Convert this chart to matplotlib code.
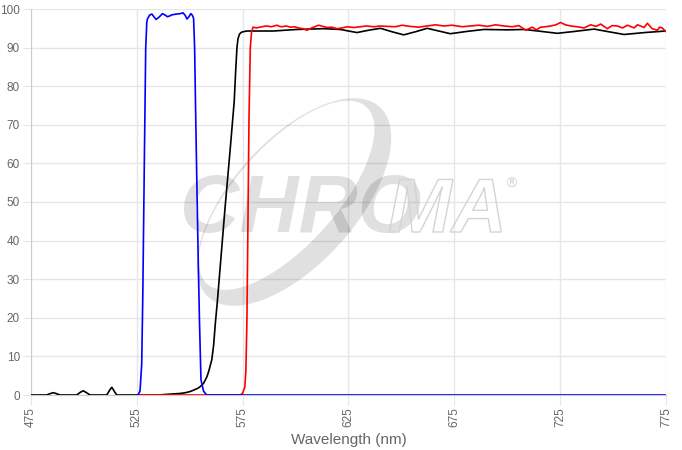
import numpy as np
import matplotlib
matplotlib.use('Agg')
import matplotlib.pyplot as plt
from matplotlib.path import Path
from matplotlib.patches import PathPatch
import matplotlib.patheffects as pe

# blue: bandpass excitation
blue_wl = [525, 525.5, 526.5, 527.3, 527.8, 528.6, 529.2, 529.7, 530.0, 531.0, 532.1, 533.2,
           534.1, 535.5, 537.1, 538.4, 539.5, 540.5, 541.6, 543.9, 545.5, 546.8, 547.8, 548.7,
           549.6, 550.5, 551.2, 551.8, 552.3, 552.7, 553.1, 554.0, 554.6, 555.3, 556.5, 558, 775]
blue_t = [0, 0, 1, 8, 25, 63, 90, 96.5, 97.4, 98.4, 98.7, 97.9,
          97.3, 97.9, 98.8, 98.4, 98.0, 98.2, 98.5, 98.7, 98.8, 99.0, 98.4, 97.4,
          98.0, 98.8, 98.4, 97.6, 90, 76, 63, 35, 19, 4, 1, 0, 0]

# black: dichroic
black_wl = [475, 482.4, 484, 485.6, 487, 488.7, 496.6, 498.3, 499.7, 501.2, 502.9, 510.8,
            512.2, 513.2, 514.3, 515.5, 535, 540, 545.5, 548, 550.2, 552, 554, 555, 556.5,
            558.1, 559, 560.4, 561.3, 562, 563.1, 566.6, 569, 571, 571.7, 572.3, 572.8,
            573.5, 574.5, 576, 577, 583, 589.6, 595, 600.7, 607, 613.3, 621.2, 625, 629,
            634.5, 640.1, 645.6, 651.1, 656.6, 662.2, 667.6, 673.1, 681, 689, 700.1, 708,
            716, 723.7, 732, 741, 748, 755.2, 765, 775]
black_t = [0, 0, 0.35, 0.6, 0.35, 0, 0, 0.7, 1.1, 0.6, 0, 0,
           1.3, 2.0, 1.0, 0, 0, 0.2, 0.4, 0.6, 0.9, 1.3, 1.8, 2.2, 3.0,
           4.7, 6.2, 9.1, 13, 18, 24.6, 48, 63, 76, 84, 90, 92.3,
           93.5, 94.0, 94.2, 94.3, 94.3, 94.3, 94.5, 94.7, 94.8, 94.9, 94.7, 94.3, 93.9,
           94.5, 95.0, 94.1, 93.3, 94.1, 95.0, 94.3, 93.6, 94.2, 94.7, 94.6, 94.7,
           94.2, 93.7, 94.2, 94.8, 94.1, 93.4, 93.9, 94.3]

# red: emission
red_wl = [525, 574, 575, 576, 576.5, 577, 577.5, 578, 578.6, 579.2, 579.9, 581.5, 583.3,
          585, 586.5, 588.5, 591.2, 592.4, 593.6, 595.5, 597.5, 599.5, 601.4, 603.5, 605.4,
          608, 610.9, 612.8, 614.9, 617, 619.6, 622, 624.3, 627.5, 630.6, 633.5, 636.9,
          640, 643.2, 647, 650.4, 654, 658.2, 662, 666.1, 670, 674, 678.7, 682.5, 686.6,
          690.5, 694.5, 698.5, 702.4, 705.5, 708.7, 711.8, 713.8, 715.8, 718, 720.5, 723,
          725.2, 727.5, 730, 733, 736.3, 739.4, 742, 744.1, 747.3, 749.5, 752, 754.5,
          756.8, 759.9, 761.5, 763, 764.6, 766.2, 768.5, 770.9, 772, 773.2, 774.8]
red_t = [0, 0, 0.5, 2, 6, 19, 45, 72, 90, 94, 95.3, 95.1, 95.3,
         95.5, 95.6, 95.4, 95.8, 95.5, 95.4, 95.6, 95.3, 95.4, 95.1, 94.9, 94.5,
         95.2, 95.8, 95.5, 95.2, 95.3, 94.9, 95.1, 95.4, 95.2, 95.4, 95.6, 95.4,
         95.6, 95.5, 95.4, 95.8, 95.5, 95.3, 95.6, 95.9, 95.6, 95.8, 95.4, 95.6, 95.8,
         95.5, 95.9, 95.6, 95.4, 95.7, 94.5, 95.3, 94.6, 95.3, 95.4, 95.6, 95.9,
         96.5, 95.9, 95.6, 95.4, 95.1, 95.9, 95.5, 96.1, 94.9, 95.7, 95.6, 95.1,
         95.8, 95.1, 95.9, 95.6, 95.2, 96.3, 94.9, 94.5, 95.3, 95.1, 94.2]

xticks = [475, 525, 575, 625, 675, 725, 775]
yticks = list(range(0, 101, 10))

W, H = 682, 450
fig = plt.figure(figsize=(W / 100, H / 100), dpi=100)
ax = fig.add_axes((31 / W, 55 / H, 635 / W, 386 / H))

txtc = '#666666'
gridc = '#e6e6e6'

ax.set_axisbelow(True)
ax.grid(True, color=gridc, lw=1)
ax.plot(black_wl, black_t, c='k', lw=1.2, zorder=3)
ax.plot(red_wl, red_t, c='#ff0000', lw=1.2, zorder=3)
ax.plot(blue_wl, blue_t, c='#0000ff', lw=1.2, zorder=3)

ax.set_xlim(475, 775)
ax.set_ylim(0, 100)
ax.set_xticks(xticks)
ax.set_yticks(yticks)
ax.set_xticklabels([str(v) for v in xticks], rotation=90)
ax.tick_params(axis='x', length=7, color=gridc, pad=2, labelsize=8.5, labelcolor=txtc)
ax.tick_params(axis='y', length=6, color=gridc, pad=2, labelsize=8.5, labelcolor=txtc)
for lab in ax.get_xticklabels() + ax.get_yticklabels():
    lab.set_family('Liberation Sans')
for s in ['top', 'right']:
    ax.spines[s].set_visible(False)
for s in ['left', 'bottom']:
    ax.spines[s].set_color('#cccccc')
ax.set_xlabel('Wavelength (nm)', color=txtc, fontsize=11, family='Liberation Sans', labelpad=4)

# watermark (pixel coords, y down)
def fig_xy(x, y):
    return x / W, 1 - y / H

def ell(cx, cy, a, b, ang, rev=False):
    t = np.linspace(0, 2 * np.pi, 200)
    if rev:
        t = t[::-1]
    ca, sa = np.cos(np.radians(ang)), np.sin(np.radians(ang))
    ex = a * np.cos(t)
    ey = b * np.sin(t)
    x = cx + ex * ca - ey * sa
    y = cy - (ex * sa + ey * ca)
    return np.column_stack([x / W, 1 - y / H])

ang = 48
off = 10
outer = ell(294, 202, 128, 62, ang)
inner = ell(294 - off * np.sin(np.radians(ang)), 202 - off * np.cos(np.radians(ang)),
            119, 50, ang, rev=True)
verts = np.vstack([outer, inner])
codes = ([Path.MOVETO] + [Path.LINETO] * (len(outer) - 2) + [Path.CLOSEPOLY]) * 2
wm = (0, 0, 0, 0.12)
ring = PathPatch(Path(verts, codes), transform=fig.transFigure, facecolor=wm,
                 edgecolor='none', zorder=1)
ax.add_artist(ring)

fam = ['Liberation Sans Narrow', 'Liberation Sans']
x0, y0 = fig_xy(180, 232)
ax.text(x0, y0, 'CHRO', transform=fig.transFigure, fontsize=59, fontstyle='italic',
        fontweight='bold', family=fam, color=wm, ha='left', va='baseline', zorder=1)
x1, y1 = fig_xy(388, 232)
ax.text(x1, y1, 'MA', transform=fig.transFigure, fontsize=55, fontstyle='italic',
        fontweight='bold', family=fam, color='none', ha='left', va='baseline', zorder=1,
        path_effects=[pe.Stroke(linewidth=1.0, foreground='#d4d4d4')])
x2, y2 = fig_xy(504, 188)
ax.text(x2, y2, '\u00ae', transform=fig.transFigure, fontsize=10, family='DejaVu Sans',
        color='#d4d4d4', ha='left', va='baseline', zorder=1)

fig.savefig('out.png', dpi=100)
